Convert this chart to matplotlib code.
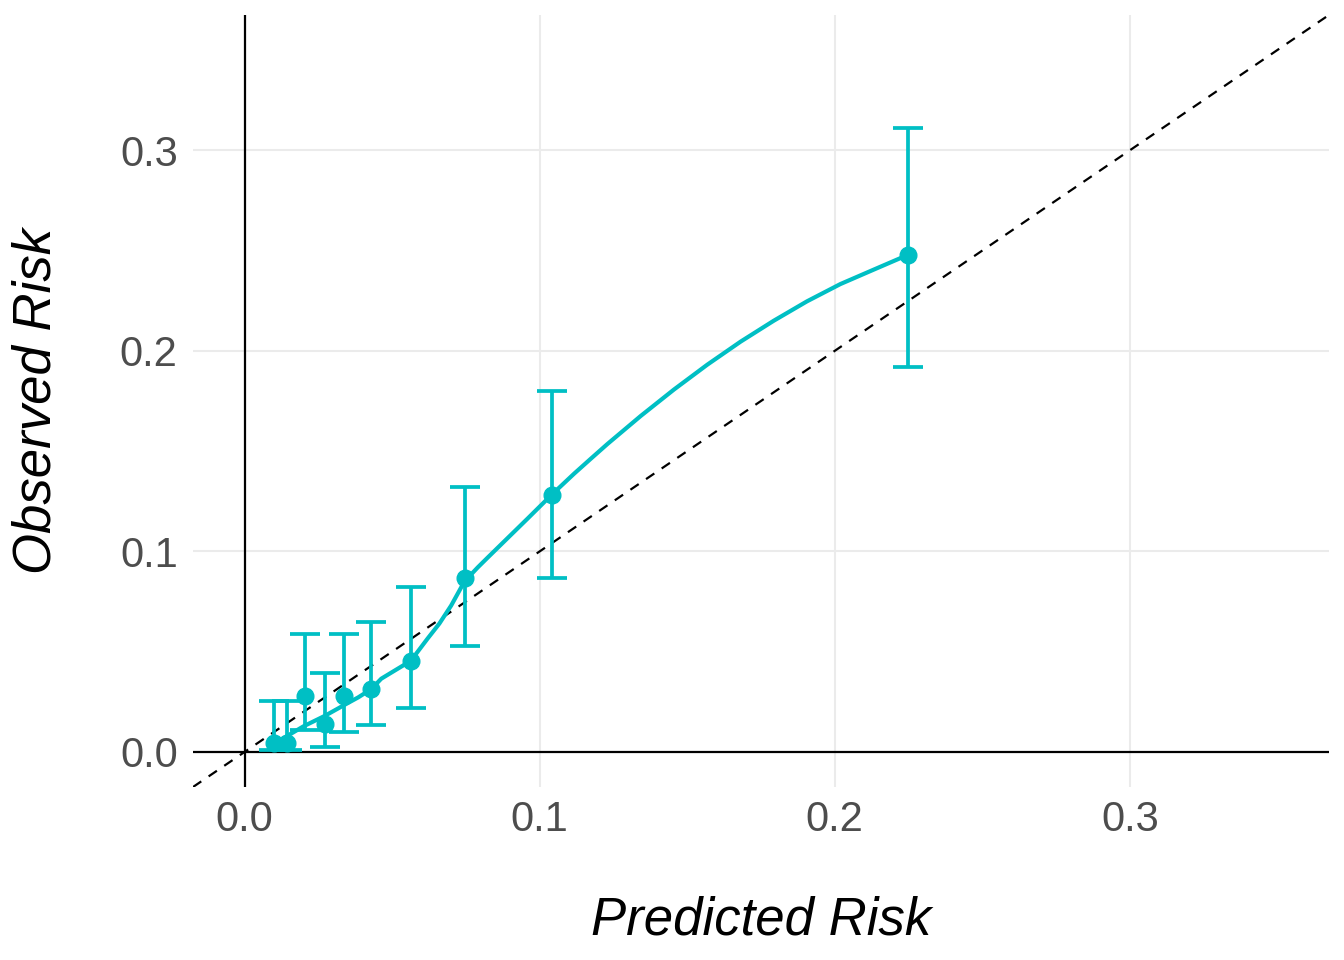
import matplotlib
matplotlib.use('Agg')
import matplotlib.pyplot as plt

# calibration points (predicted vs observed) with CI
pred = [0.0098, 0.0142, 0.0205, 0.0272, 0.0336, 0.0429, 0.0563, 0.0747, 0.1041, 0.2247]
obs = [0.0042, 0.0045, 0.0280, 0.0138, 0.0278, 0.0315, 0.0454, 0.0865, 0.1283, 0.2480]
ci_low = [0.0010, 0.0010, 0.0110, 0.0025, 0.0100, 0.0135, 0.0221, 0.0529, 0.0869, 0.1919]
ci_high = [0.0252, 0.0252, 0.0589, 0.0395, 0.0588, 0.0646, 0.0824, 0.1323, 0.1802, 0.3109]

# smoothed calibration curve
curve_x = [0.0125, 0.0200, 0.0272, 0.0339, 0.0385, 0.0429, 0.0463, 0.0491, 0.0563, 0.0620,
           0.0660, 0.0700, 0.0745, 0.0790, 0.0823, 0.0880, 0.0960, 0.1041, 0.1117, 0.1174,
           0.1230, 0.1343, 0.1455, 0.1568, 0.1681, 0.1793, 0.1906, 0.2019, 0.2132, 0.2244]
curve_y = [0.0063, 0.0128, 0.0180, 0.0235, 0.0272, 0.0313, 0.0365, 0.0390, 0.0454, 0.0565,
           0.0640, 0.0730, 0.0850, 0.0920, 0.0968, 0.1050, 0.1165, 0.1283, 0.1388, 0.1463,
           0.1536, 0.1676, 0.1807, 0.1931, 0.2046, 0.2150, 0.2247, 0.2333, 0.2405, 0.2476]

ticks = [0.0, 0.1, 0.2, 0.3]
lim = (-0.0175, 0.3675)
teal = '#00BFC4'

plt.rcParams['font.family'] = ['Liberation Sans', 'DejaVu Sans']

fig = plt.figure(figsize=(13.44, 9.6), dpi=100)
ax = fig.add_axes([0.1436, 0.1802, 0.8452, 0.8042])

ax.set_xlim(lim)
ax.set_ylim(lim)
ax.set_xticks(ticks)
ax.set_yticks(ticks)
ax.set_xticklabels([f'{t:.1f}' for t in ticks])
ax.set_yticklabels([f'{t:.1f}' for t in ticks])
ax.grid(True, color='#EBEBEB', linewidth=1.5)
ax.set_axisbelow(True)
for s in ax.spines.values():
    s.set_visible(False)
ax.tick_params(length=0, labelsize=30, labelcolor='#4D4D4D')
ax.tick_params(axis='x', pad=9)
ax.tick_params(axis='y', pad=11)

ax.axhline(0, color='black', linewidth=1.6, zorder=1)
ax.axvline(0, color='black', linewidth=1.6, zorder=1)
ax.plot(lim, lim, color='black', linestyle=(0, (4.5, 4)), linewidth=1.6, zorder=2)

yerr = [[o - l for o, l in zip(obs, ci_low)], [h - o for o, h in zip(obs, ci_high)]]
ax.errorbar(pred, obs, yerr=yerr, fmt='none', ecolor=teal, elinewidth=2.7,
            capsize=10.5, capthick=2.7, zorder=3)
ax.plot(curve_x, curve_y, color=teal, linewidth=3.0, solid_capstyle='round',
        solid_joinstyle='round', zorder=4)
ax.plot(pred, obs, 'o', color=teal, markersize=12, zorder=5)

ax.set_xlabel('Predicted Risk', fontsize=38, style='italic', labelpad=40)
ax.set_ylabel('Observed Risk', fontsize=38, style='italic', labelpad=42)

plt.savefig('out.png', dpi=100)
plt.close()
